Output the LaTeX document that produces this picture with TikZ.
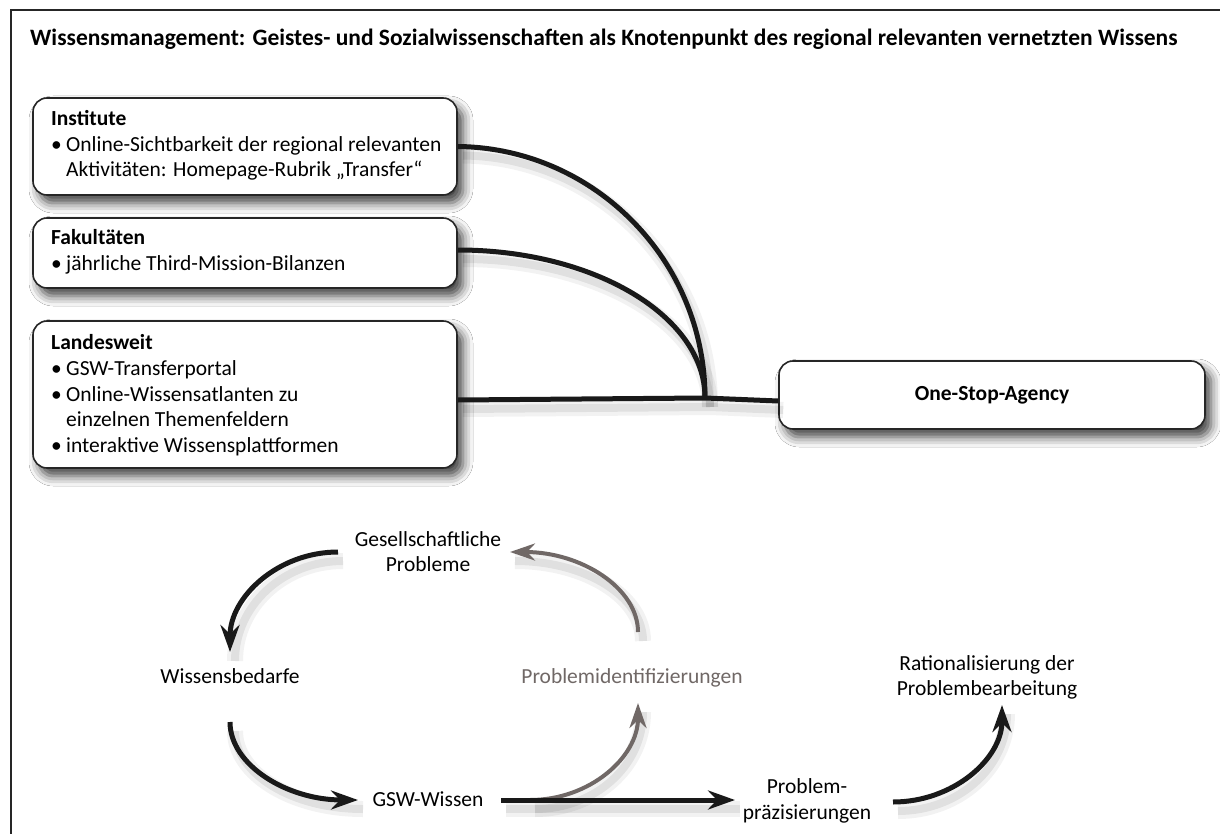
\documentclass[tikz,border=0pt]{standalone}
\usepackage{fontspec}
\setmainfont{Carlito}
\usetikzlibrary{arrows.meta,shadows.blur}
\newcommand{\mybul}{\makebox[15pt][l]{•}}
\newcommand{\myind}{\hspace*{15pt}}
\definecolor{grayarr}{RGB}{112,104,102}
\begin{document}
\begin{tikzpicture}[x=1pt,y=-1pt,
  box/.style={draw=black!85, line width=1.6pt, rounded corners=14pt, fill=white,
    blur shadow={shadow xshift=6pt, shadow yshift=-8pt, shadow blur radius=10pt, shadow opacity=75}},
  txt/.style={inner sep=0pt, anchor=base west, font=\fontsize{21.5}{25}\selectfont},
  hd/.style={txt, font=\bfseries\fontsize{21.5}{25}\selectfont},
  lbl/.style={inner sep=0pt, anchor=base, font=\fontsize{21.5}{25}\selectfont},
  sh/.style={preaction={draw=black, -, opacity=0.05, line width=16pt, transform canvas={shift={(5pt,-9pt)}}},
             preaction={draw=black, -, opacity=0.07, line width=8pt, transform canvas={shift={(5pt,-9pt)}}}},
  conn/.style={sh, line width=5pt, draw=black!90},
  arr/.style={sh, line width=5pt, draw=black!90, -{Stealth[length=27pt,width=19pt,inset=9pt]}},
  garr/.style={sh, line width=4pt, draw=grayarr, -{Stealth[length=25pt,width=17pt,inset=8pt]}}
]
\useasboundingbox (0,0) rectangle (1220,834);
\fill[white] (0,0) rectangle (1220,834);
\draw[line width=2.5pt, black!85] (11,834) -- (11,10) -- (1220,10);

\node[hd, font=\bfseries\fontsize{23.5}{27}\selectfont] (title) at (30,46)
  {Wissensmanagement: Geistes- und Sozialwissenschaften als Knotenpunkt des regional relevanten vernetzten Wissens};

% boxes
\node[box, minimum width=424pt, minimum height=97pt] (inst) at (245,146.5) {};
\node[box, minimum width=424pt, minimum height=70pt] (fak) at (245,253) {};
\node[box, minimum width=424pt, minimum height=147pt] (land) at (245,394.5) {};
\node[box, minimum width=426pt, minimum height=68pt, font=\bfseries\fontsize{21.5}{25}\selectfont] (osa) at (992,395) {One-Stop-Agency};

\node[hd] (instH) at (51,126) {Institute};
\node[txt] (instA) at (51,152) {\mybul Online-Sichtbarkeit der regional relevanten};
\node[txt] (instB) at (51,177) {\myind Aktivitäten: Homepage-Rubrik „Transfer“};

\node[hd] (fakH) at (51,245) {Fakultäten};
\node[txt] (fakA) at (51,271) {\mybul jährliche Third-Mission-Bilanzen};

\node[hd] (landH) at (51,349) {Landesweit};
\node[txt] (landA) at (51,375) {\mybul GSW-Transferportal};
\node[txt] (landB) at (51,401) {\mybul Online-Wissensatlanten zu};
\node[txt] (landC) at (51,426) {\myind einzelnen Themenfeldern};
\node[txt] (landD) at (51,452) {\mybul interaktive Wissensplattformen};

% connectors
\coordinate (j) at (705,398);
\draw[conn] (inst.east) .. controls (594,148) and (705,260) .. (j);
\draw[conn] ([yshift=3pt]fak.east) .. controls (594,250) and (705,316) .. (j);
\draw[conn] ([yshift=-5.5pt]land.east) -- (j) -- ([yshift=-6pt]osa.west);

% lower cycle
\node[lbl] (gp1) at (428,546) {Gesellschaftliche};
\node[lbl] (gp2) at (428,571) {Probleme};
\node[lbl] (wb) at (230,683) {Wissensbedarfe};
\node[lbl, text=grayarr] (pi) at (632,683) {Problemidentifizierungen};
\node[lbl] (ra1) at (987,670) {Rationalisierung der};
\node[lbl] (ra2) at (987,695) {Problembearbeitung};
\node[lbl] (gsw) at (428,806) {GSW-Wissen};
\node[lbl] (pp1) at (807,793) {Problem-};
\node[lbl] (pp2) at (807,819) {präzisierungen};

\coordinate (a1s) at (338,552);
\coordinate (a1e) at (230,652);
\coordinate (a2s) at (230,722);
\coordinate (a2e) at (358,800);
\coordinate (a3s) at (501,800);
\coordinate (a3e) at (735,800);
\coordinate (g1s) at (530,800);
\coordinate (g1e) at (638,703);
\coordinate (g2s) at (638,632);
\coordinate (g2e) at (510,552);
\coordinate (a4s) at (893,802);
\coordinate (a4e) at (1002,705);

\draw[arr] (a1s) .. controls (278,552) and (230,597) .. (a1e);
\draw[arr] (a2s) .. controls (230,765) and (287,800) .. (a2e);
\draw[garr] (g1s) .. controls (590,800) and (638,757) .. (g1e);
\draw[arr] (a3s) -- (a3e);
\draw[garr] (g2s) .. controls (638,588) and (581,552) .. (g2e);
\draw[arr] (a4s) .. controls (953,802) and (1002,759) .. (a4e);
\end{tikzpicture}
\end{document}
